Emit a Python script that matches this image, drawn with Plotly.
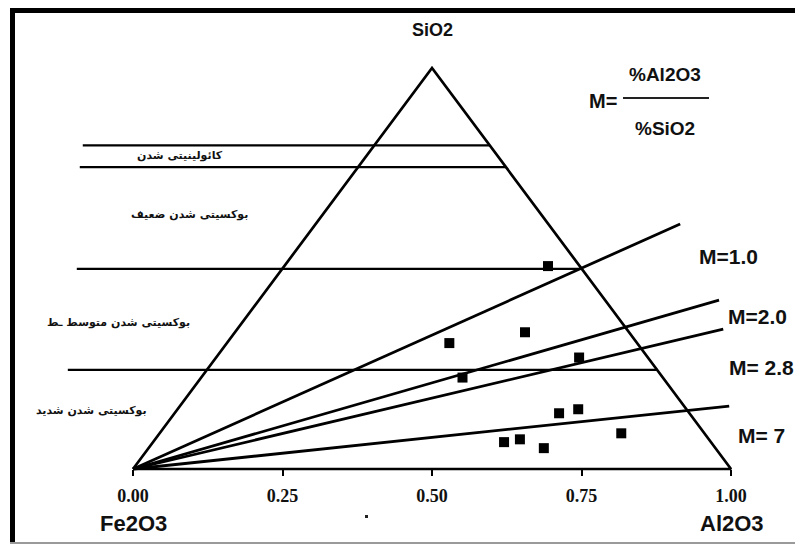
import plotly.graph_objects as go

# ---------------- data ----------------
tick_vals = [0.0, 0.25, 0.5, 0.75, 1.0]
tick_text = ["0.00", "0.25", "0.50", "0.75", "1.00"]

# sample compositions (fractions): SiO2 and Al2O3 (rest Fe2O3)
sample_sio2 = [0.506, 0.314, 0.341, 0.278, 0.228, 0.139, 0.149, 0.089, 0.067, 0.074, 0.052]
sample_al2o3 = [0.441, 0.372, 0.485, 0.607, 0.437, 0.643, 0.670, 0.772, 0.587, 0.610, 0.661]

# horizontal SiO2 boundary levels and where each line starts on the left
level_sio2 = [0.807, 0.753, 0.499, 0.247]
level_start_x = [-0.084, -0.089, -0.094, -0.109]

# M = Al2O3/SiO2 ratio lines: end points (plot x, plot y)
m_labels = ["M=1.0", "M=2.0", "M= 2.8", "M= 7"]
m_end_x = [0.915, 0.980, 0.987, 0.997]
m_end_y = [0.611, 0.421, 0.349, 0.157]

zone_labels = ["کائولینیتی شدن", "بوکسیتی شدن ضعیف", "بوکسیتی شدن متوسط ـط", "بوکسیتی شدن شدید"]

# ---------------- geometry (page pixels; page body has an 8px margin) ----------------
OFF = 8
W, H = 803 - OFF, 547 - OFF
X0PX, X1PX = 133 - OFF, 731 - OFF
BASEPX, APEXPX = 469 - OFF, 68 - OFF
sx = X1PX - X0PX
sy = BASEPX - APEXPX
xr = [(0 - X0PX) / sx, (W - X0PX) / sx]
yr = [(BASEPX - H) / sy, BASEPX / sy]

def px(x, y):
    return (x - OFF) / W, 1 - (y - OFF) / H

fig = go.Figure()

# triangle
fig.add_trace(go.Scatter(x=[0, 0.5, 1, 0], y=[0, 1, 0, 0], mode="lines",
                         line=dict(color="black", width=2.7), hoverinfo="skip"))

# horizontal boundary lines
for lv, xs in zip(level_sio2, level_start_x):
    fig.add_trace(go.Scatter(x=[xs, 1 - lv / 2], y=[lv, lv], mode="lines",
                             line=dict(color="black", width=2.3), hoverinfo="skip"))

# M lines
for ex, ey in zip(m_end_x, m_end_y):
    fig.add_trace(go.Scatter(x=[0, ex], y=[0, ey], mode="lines",
                             line=dict(color="black", width=2.8), hoverinfo="skip"))

# samples
px_x = [a + s / 2 for a, s in zip(sample_al2o3, sample_sio2)]
fig.add_trace(go.Scatter(x=px_x, y=sample_sio2, mode="markers",
                         marker=dict(symbol="square", size=10, color="black"),
                         hoverinfo="skip"))

ann = []
def T(text, x, y, size, family):
    xx, yy = px(x, y)
    ann.append(dict(text=f"<b>{text}</b>", x=xx, y=yy, xref="paper", yref="paper",
                    showarrow=False, xanchor="center", yanchor="middle",
                    font=dict(size=size, family=family, color="#111")))

SANS = "Liberation Sans, Arial"
T("SiO2", 432, 30, 18, SANS)
T("M=", 603, 101, 20, SANS)
T("%Al2O3", 665, 74, 19, SANS)
T("%SiO2", 665, 128, 19, SANS)
T(m_labels[0], 728, 256, 21, SANS)
T(m_labels[1], 757, 316, 21, SANS)
T(m_labels[2], 761, 367, 21, SANS)
T(m_labels[3], 761, 435, 21, SANS)
T("Fe2O3", 133, 523, 22, SANS)
T("Al2O3", 732, 523, 22, SANS)

AR = "DejaVu Sans"
T(zone_labels[0], 180, 155, 11, AR)
T(zone_labels[1], 189, 214, 11, AR)
T(zone_labels[2], 118, 322, 11, AR)
T(zone_labels[3], 91, 410, 11, AR)

shapes = []
def rect(x0, y0, x1, y1, color):
    a, b = px(x0, y0)
    c, d = px(x1, y1)
    shapes.append(dict(type="rect", xref="paper", yref="paper", x0=a, x1=c, y0=d, y1=b,
                       fillcolor=color, line=dict(width=0), layer="above"))

# frame
rect(10, 7, 803, 13, "black")
rect(10, 7, 15, 543, "black")
rect(10, 542, 803, 544, "#9a9a9a")
# fraction bar
rect(623, 97, 709, 99, "#222")
# small dot
rect(365, 515, 368, 518, "#222")

fig.update_layout(
    width=W, height=H, margin=dict(l=0, r=0, t=0, b=0),
    paper_bgcolor="white", plot_bgcolor="white", showlegend=False,
    annotations=ann, shapes=shapes,
    xaxis=dict(range=xr, showgrid=False, zeroline=False, showline=False,
               tickvals=tick_vals, ticktext=[f"<b>{t}</b>" for t in tick_text],
               ticks="outside", ticklen=6, ticklabelstandoff=4,
               tickwidth=1.5, tickcolor="black", anchor="free",
               position=1 - BASEPX / H,
               tickfont=dict(family="Liberation Serif, Times New Roman", size=18, color="#111"),
               fixedrange=True),
    yaxis=dict(range=yr, visible=False, fixedrange=True),
)

fig.write_html("out.html")
